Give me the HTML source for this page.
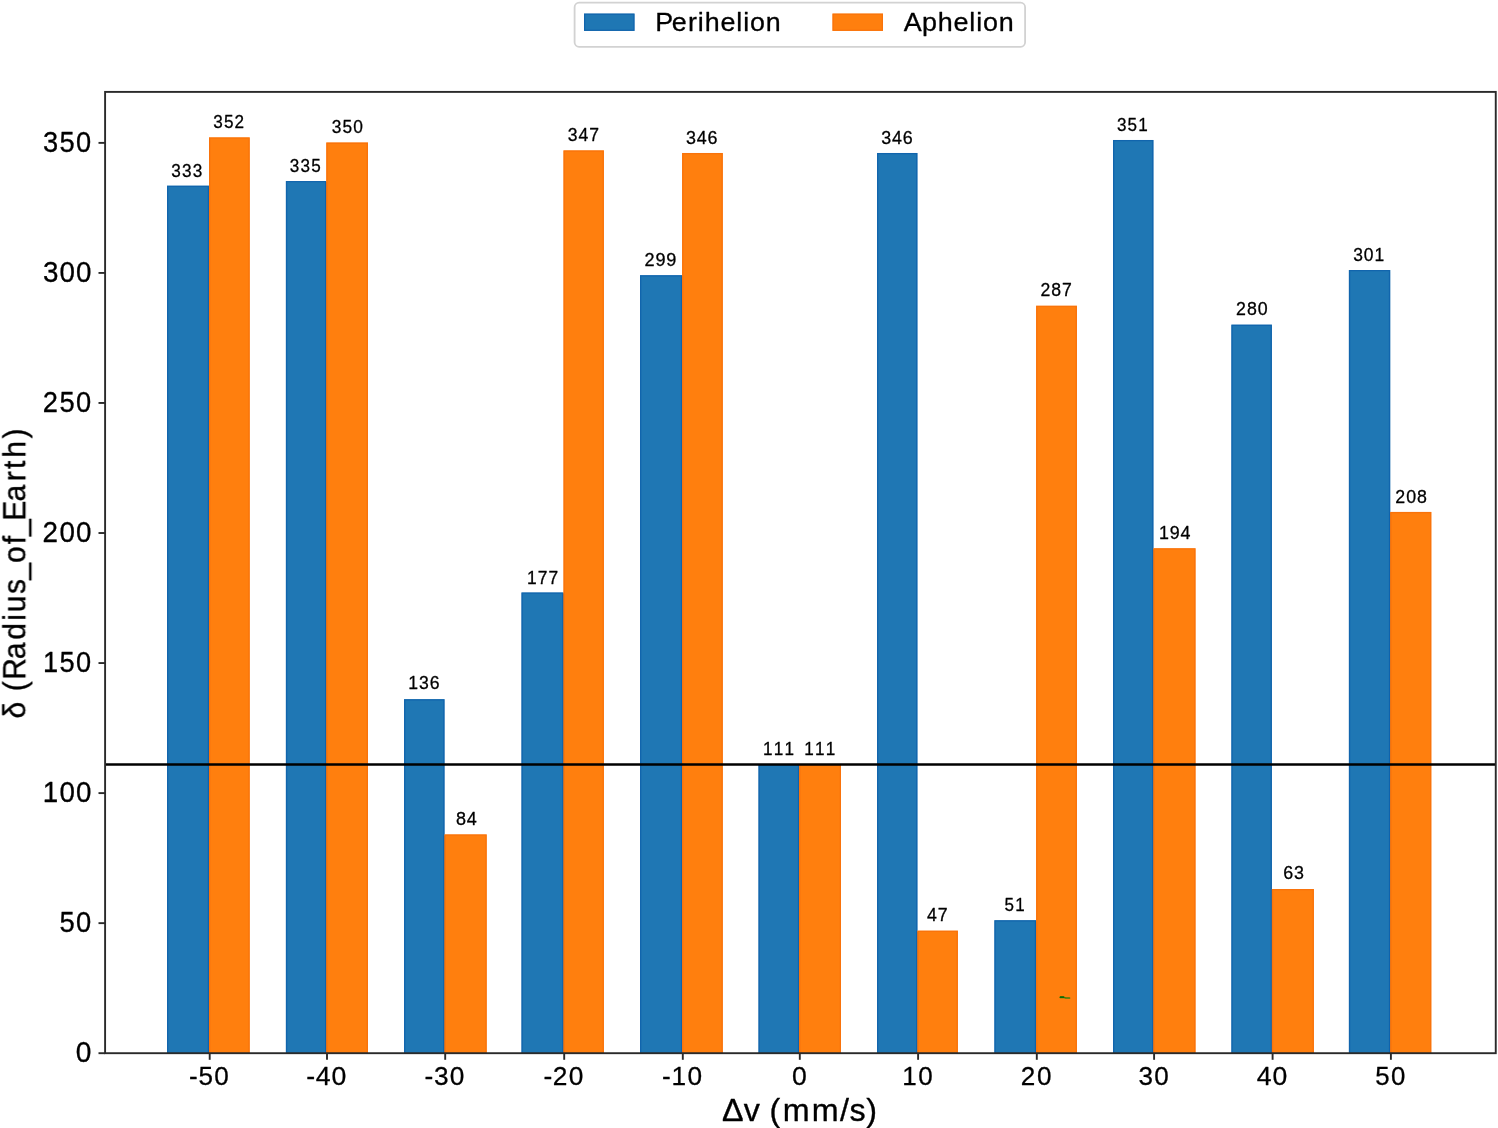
<!DOCTYPE html>
<html lang="en"><head><meta charset="utf-8"><title>Perihelion vs Aphelion bar chart</title>
<style>
html,body{margin:0;padding:0;background:#fff;}
body{width:1498px;height:1128px;overflow:hidden;font-family:"Liberation Sans",sans-serif;}
svg{display:block;}
text{font-family:"Liberation Sans",sans-serif;fill:#000;stroke:#000;stroke-linejoin:round;}
</style></head><body>
<svg width="1498" height="1128" viewBox="0 0 1498 1128">
<rect x="0" y="0" width="1498" height="1128" fill="#fff"/>
<g>
<rect x="167.00" y="185.70" width="42.00" height="867.50" fill="#1f77b4"/>
<path d="M167.65 1053.20V186.35H208.35V1053.20" fill="none" stroke="#0f62ab" stroke-width="1.30" stroke-opacity="0.85"/>
<rect x="208.30" y="186.70" width="1.4" height="866.50" fill="#0f62ab"/>
<rect x="209.00" y="137.38" width="40.70" height="915.82" fill="#ff7f0e"/>
<path d="M209.65 1053.20V138.03H249.05V1053.20" fill="none" stroke="#f8710a" stroke-width="1.30" stroke-opacity="0.85"/>
<rect x="285.90" y="181.07" width="40.40" height="872.13" fill="#1f77b4"/>
<path d="M286.55 1053.20V181.72H325.65V1053.20" fill="none" stroke="#0f62ab" stroke-width="1.30" stroke-opacity="0.85"/>
<rect x="325.60" y="182.07" width="1.4" height="871.13" fill="#0f62ab"/>
<rect x="326.30" y="142.58" width="41.70" height="910.62" fill="#ff7f0e"/>
<path d="M326.95 1053.20V143.23H367.35V1053.20" fill="none" stroke="#f8710a" stroke-width="1.30" stroke-opacity="0.85"/>
<rect x="404.05" y="699.17" width="40.45" height="354.03" fill="#1f77b4"/>
<path d="M404.70 1053.20V699.82H443.85V1053.20" fill="none" stroke="#0f62ab" stroke-width="1.30" stroke-opacity="0.85"/>
<rect x="443.80" y="835.42" width="1.4" height="217.78" fill="#0f62ab"/>
<rect x="444.50" y="834.42" width="42.20" height="218.78" fill="#ff7f0e"/>
<path d="M445.15 1053.20V835.07H486.05V1053.20" fill="none" stroke="#f8710a" stroke-width="1.30" stroke-opacity="0.85"/>
<rect x="521.50" y="592.54" width="42.00" height="460.66" fill="#1f77b4"/>
<path d="M522.15 1053.20V593.19H562.85V1053.20" fill="none" stroke="#0f62ab" stroke-width="1.30" stroke-opacity="0.85"/>
<rect x="562.80" y="593.54" width="1.4" height="459.66" fill="#0f62ab"/>
<rect x="563.50" y="150.38" width="40.40" height="902.82" fill="#ff7f0e"/>
<path d="M564.15 1053.20V151.03H603.25V1053.20" fill="none" stroke="#f8710a" stroke-width="1.30" stroke-opacity="0.85"/>
<rect x="640.00" y="275.22" width="42.10" height="777.98" fill="#1f77b4"/>
<path d="M640.65 1053.20V275.87H681.45V1053.20" fill="none" stroke="#0f62ab" stroke-width="1.30" stroke-opacity="0.85"/>
<rect x="681.40" y="276.22" width="1.4" height="776.98" fill="#0f62ab"/>
<rect x="682.10" y="152.98" width="40.70" height="900.22" fill="#ff7f0e"/>
<path d="M682.75 1053.20V153.63H722.15V1053.20" fill="none" stroke="#f8710a" stroke-width="1.30" stroke-opacity="0.85"/>
<rect x="758.50" y="764.20" width="40.60" height="289.00" fill="#1f77b4"/>
<path d="M759.15 1053.20V764.85H798.45V1053.20" fill="none" stroke="#0f62ab" stroke-width="1.30" stroke-opacity="0.85"/>
<rect x="798.40" y="765.20" width="1.4" height="288.00" fill="#0f62ab"/>
<rect x="799.10" y="764.20" width="41.90" height="289.00" fill="#ff7f0e"/>
<path d="M799.75 1053.20V764.85H840.35V1053.20" fill="none" stroke="#f8710a" stroke-width="1.30" stroke-opacity="0.85"/>
<rect x="877.00" y="152.98" width="40.40" height="900.22" fill="#1f77b4"/>
<path d="M877.65 1053.20V153.63H916.75V1053.20" fill="none" stroke="#0f62ab" stroke-width="1.30" stroke-opacity="0.85"/>
<rect x="916.70" y="931.66" width="1.4" height="121.54" fill="#0f62ab"/>
<rect x="917.40" y="930.66" width="40.50" height="122.54" fill="#ff7f0e"/>
<path d="M918.05 1053.20V931.31H957.25V1053.20" fill="none" stroke="#f8710a" stroke-width="1.30" stroke-opacity="0.85"/>
<rect x="994.40" y="920.25" width="41.70" height="132.95" fill="#1f77b4"/>
<path d="M995.05 1053.20V920.90H1035.45V1053.20" fill="none" stroke="#0f62ab" stroke-width="1.30" stroke-opacity="0.85"/>
<rect x="1035.40" y="921.25" width="1.4" height="131.95" fill="#0f62ab"/>
<rect x="1036.10" y="305.79" width="40.85" height="747.41" fill="#ff7f0e"/>
<path d="M1036.75 1053.20V306.44H1076.30V1053.20" fill="none" stroke="#f8710a" stroke-width="1.30" stroke-opacity="0.85"/>
<rect x="1113.00" y="139.98" width="40.40" height="913.22" fill="#1f77b4"/>
<path d="M1113.65 1053.20V140.63H1152.75V1053.20" fill="none" stroke="#0f62ab" stroke-width="1.30" stroke-opacity="0.85"/>
<rect x="1152.70" y="549.32" width="1.4" height="503.88" fill="#0f62ab"/>
<rect x="1153.40" y="548.32" width="42.10" height="504.88" fill="#ff7f0e"/>
<path d="M1154.05 1053.20V548.97H1194.85V1053.20" fill="none" stroke="#f8710a" stroke-width="1.30" stroke-opacity="0.85"/>
<rect x="1231.40" y="324.64" width="40.50" height="728.56" fill="#1f77b4"/>
<path d="M1232.05 1053.20V325.29H1271.25V1053.20" fill="none" stroke="#0f62ab" stroke-width="1.30" stroke-opacity="0.85"/>
<rect x="1271.20" y="890.04" width="1.4" height="163.16" fill="#0f62ab"/>
<rect x="1271.90" y="889.04" width="42.00" height="164.16" fill="#ff7f0e"/>
<path d="M1272.55 1053.20V889.69H1313.25V1053.20" fill="none" stroke="#f8710a" stroke-width="1.30" stroke-opacity="0.85"/>
<rect x="1348.90" y="270.02" width="41.30" height="783.18" fill="#1f77b4"/>
<path d="M1349.55 1053.20V270.67H1389.55V1053.20" fill="none" stroke="#0f62ab" stroke-width="1.30" stroke-opacity="0.85"/>
<rect x="1389.50" y="512.91" width="1.4" height="540.29" fill="#0f62ab"/>
<rect x="1390.20" y="511.91" width="41.10" height="541.29" fill="#ff7f0e"/>
<path d="M1390.85 1053.20V512.56H1430.65V1053.20" fill="none" stroke="#f8710a" stroke-width="1.30" stroke-opacity="0.85"/>
</g>
<path d="M1060.3 997.3H1063.6L1065.6 998.0H1069.5" fill="none" stroke="#3d7d0c" stroke-width="1.7" stroke-linecap="round"/>
<path d="M1060.6 997.2H1063.4" fill="none" stroke="#0d6b04" stroke-width="1.7" stroke-linecap="round"/>
<line x1="105.10" y1="764.50" x2="1495.75" y2="764.50" stroke="#000" stroke-width="2.3"/>
<rect x="105.10" y="91.90" width="1390.65" height="961.30" fill="none" stroke="#2a2a2a" stroke-width="1.90"/>
<g stroke="#2a2a2a" stroke-width="1.90">
<line x1="98.50" y1="1053.20" x2="105.10" y2="1053.20"/>
<line x1="98.50" y1="923.15" x2="105.10" y2="923.15"/>
<line x1="98.50" y1="793.11" x2="105.10" y2="793.11"/>
<line x1="98.50" y1="663.06" x2="105.10" y2="663.06"/>
<line x1="98.50" y1="533.02" x2="105.10" y2="533.02"/>
<line x1="98.50" y1="402.97" x2="105.10" y2="402.97"/>
<line x1="98.50" y1="272.92" x2="105.10" y2="272.92"/>
<line x1="98.50" y1="142.88" x2="105.10" y2="142.88"/>
<line x1="209.70" y1="1053.20" x2="209.70" y2="1059.80"/>
<line x1="327.00" y1="1053.20" x2="327.00" y2="1059.80"/>
<line x1="445.20" y1="1053.20" x2="445.20" y2="1059.80"/>
<line x1="564.20" y1="1053.20" x2="564.20" y2="1059.80"/>
<line x1="682.80" y1="1053.20" x2="682.80" y2="1059.80"/>
<line x1="799.80" y1="1053.20" x2="799.80" y2="1059.80"/>
<line x1="918.10" y1="1053.20" x2="918.10" y2="1059.80"/>
<line x1="1036.80" y1="1053.20" x2="1036.80" y2="1059.80"/>
<line x1="1154.10" y1="1053.20" x2="1154.10" y2="1059.80"/>
<line x1="1272.60" y1="1053.20" x2="1272.60" y2="1059.80"/>
<line x1="1390.90" y1="1053.20" x2="1390.90" y2="1059.80"/>
</g>
<g style="filter:grayscale(1)">
<text transform="scale(0.9444 1)" x="80.31" y="1062.50" font-size="29.80" stroke-width="0.32">0</text>
<text transform="scale(0.9180 1)" x="64.77 82.87" y="932.45" font-size="29.80" stroke-width="0.32">50</text>
<text transform="scale(0.9312 1)" x="45.96 63.84 81.57" y="802.41" font-size="29.80" stroke-width="0.32">100</text>
<text transform="scale(0.9130 1)" x="47.05 65.16 83.36" y="672.36" font-size="29.80" stroke-width="0.32">150</text>
<text transform="scale(0.9334 1)" x="45.60 63.67 81.36" y="542.32" font-size="29.80" stroke-width="0.32">200</text>
<text transform="scale(0.9155 1)" x="46.66 64.96 83.11" y="412.27" font-size="29.80" stroke-width="0.32">250</text>
<text transform="scale(0.9320 1)" x="46.10 63.78 81.49" y="282.22" font-size="29.80" stroke-width="0.32">300</text>
<text transform="scale(0.9143 1)" x="47.15 65.06 83.23" y="152.18" font-size="29.80" stroke-width="0.32">350</text>
<text transform="scale(0.9787 1)" x="193.14 202.75 218.99" y="1085.20" font-size="26.66" stroke-width="0.30">-50</text>
<text transform="scale(1.0009 1)" x="305.96 315.39 331.17" y="1085.20" font-size="26.66" stroke-width="0.30">-40</text>
<text transform="scale(0.9853 1)" x="430.83 440.50 456.49" y="1085.20" font-size="26.66" stroke-width="0.30">-30</text>
<text transform="scale(0.9871 1)" x="550.59 559.86 576.20" y="1085.20" font-size="26.66" stroke-width="0.30">-20</text>
<text transform="scale(0.9844 1)" x="672.60 682.11 698.29" y="1085.20" font-size="26.66" stroke-width="0.30">-10</text>
<text transform="scale(0.9963 1)" x="794.83" y="1085.20" font-size="26.66" stroke-width="0.30">0</text>
<text transform="scale(0.9751 1)" x="925.38 941.70" y="1085.20" font-size="26.66" stroke-width="0.30">10</text>
<text transform="scale(0.9788 1)" x="1042.94 1059.42" y="1085.20" font-size="26.66" stroke-width="0.30">20</text>
<text transform="scale(0.9767 1)" x="1165.69 1181.82" y="1085.20" font-size="26.66" stroke-width="0.30">30</text>
<text transform="scale(0.9964 1)" x="1261.36 1277.21" y="1085.20" font-size="26.66" stroke-width="0.30">40</text>
<text transform="scale(0.9684 1)" x="1420.05 1436.46" y="1085.20" font-size="26.66" stroke-width="0.30">50</text>
<text transform="scale(0.9569 1)" x="178.97 190.21 201.46" y="176.85" font-size="17.99" stroke-width="0.30">333</text>
<text transform="scale(0.9524 1)" x="223.98 235.19 246.32" y="128.28" font-size="17.99" stroke-width="0.30">352</text>
<text transform="scale(0.9513 1)" x="304.54 315.85 327.07" y="171.87" font-size="17.99" stroke-width="0.30">335</text>
<text transform="scale(0.9646 1)" x="344.04 355.11 366.33" y="133.28" font-size="17.99" stroke-width="0.30">350</text>
<text transform="scale(0.9803 1)" x="416.45 427.54 438.50" y="688.77" font-size="17.99" stroke-width="0.30">136</text>
<text transform="scale(1.0016 1)" x="455.20 465.94" y="825.17" font-size="17.99" stroke-width="0.30">84</text>
<text transform="scale(0.9672 1)" x="544.85 556.03 567.16" y="583.69" font-size="17.99" stroke-width="0.30">177</text>
<text transform="scale(0.9764 1)" x="581.40 592.40 603.39" y="141.28" font-size="17.99" stroke-width="0.30">347</text>
<text transform="scale(1.0064 1)" x="640.35 651.21 661.91" y="266.17" font-size="17.99" stroke-width="0.30">299</text>
<text transform="scale(0.9946 1)" x="689.72 700.51 711.34" y="143.53" font-size="17.99" stroke-width="0.30">346</text>
<text transform="scale(0.9516 1)" x="801.72 813.03 824.34" y="754.90" font-size="17.99" stroke-width="0.30">111</text>
<text transform="scale(0.9516 1)" x="845.07 856.38 867.69" y="754.90" font-size="17.99" stroke-width="0.30">111</text>
<text transform="scale(0.9946 1)" x="886.03 896.83 907.65" y="143.68" font-size="17.99" stroke-width="0.30">346</text>
<text transform="scale(0.9861 1)" x="940.12 951.00" y="921.36" font-size="17.99" stroke-width="0.30">47</text>
<text transform="scale(0.9457 1)" x="1062.24 1073.60" y="910.99" font-size="17.99" stroke-width="0.30">51</text>
<text transform="scale(0.9810 1)" x="1060.53 1071.73 1082.66" y="296.49" font-size="17.99" stroke-width="0.30">287</text>
<text transform="scale(0.9495 1)" x="1176.35 1187.60 1198.92" y="130.68" font-size="17.99" stroke-width="0.30">351</text>
<text transform="scale(0.9934 1)" x="1166.59 1177.46 1188.34" y="539.02" font-size="17.99" stroke-width="0.30">194</text>
<text transform="scale(0.9883 1)" x="1250.55 1261.67 1272.56" y="315.34" font-size="17.99" stroke-width="0.30">280</text>
<text transform="scale(0.9935 1)" x="1291.54 1302.39" y="878.74" font-size="17.99" stroke-width="0.30">63</text>
<text transform="scale(0.9689 1)" x="1396.57 1407.65 1418.67" y="261.22" font-size="17.99" stroke-width="0.30">301</text>
<text transform="scale(0.9883 1)" x="1411.74 1422.86 1433.75" y="502.61" font-size="17.99" stroke-width="0.30">208</text>
<text transform="scale(1.0091 1)" x="715.50 736.96 753.54 762.62 775.76 804.48 832.45 841.80 858.46" y="1121.00" font-size="31.95" stroke-width="0.36">Δv (mm/s)</text>
<g transform="translate(25.30 573.80) rotate(-90)">
<text transform="scale(0.9428 1)" x="-153.36 -134.88 -124.68 -112.30 -90.64 -69.89 -49.92 -40.83 -21.35 -6.22 11.37 31.48 40.20 56.26 76.67 98.27 111.14 123.10 143.64" y="0.00" font-size="31.95" stroke-width="0.36">δ (Radius_of_Earth)</text>
</g>
</g>
<rect x="574.60" y="2.70" width="450.50" height="44.10" rx="4.5" ry="4.5" fill="#fff" stroke="#d2d2d2" stroke-width="1.8"/>
<rect x="584" y="13.6" width="50.5" height="17.3" fill="#1f77b4"/>
<rect x="584.6" y="14.2" width="49.3" height="16.1" fill="none" stroke="#0f62ab" stroke-width="1.2" stroke-opacity="0.85"/>
<rect x="832.5" y="13.6" width="50.5" height="17.3" fill="#ff7f0e"/>
<rect x="833.1" y="14.2" width="49.3" height="16.1" fill="none" stroke="#f8710a" stroke-width="1.2" stroke-opacity="0.85"/>
<g style="filter:grayscale(1)">
<text transform="scale(1.0630 1)" x="616.47 631.96 647.33 656.44 663.06 677.89 692.62 699.21 705.56 720.37" y="31.20" font-size="25.26" stroke-width="0.30">Perihelion</text>
<text transform="scale(1.0660 1)" x="847.76 864.89 879.75 894.55 909.24 915.82 922.14 936.91" y="31.20" font-size="25.26" stroke-width="0.30">Aphelion</text>
</g>
</svg>
</body></html>
